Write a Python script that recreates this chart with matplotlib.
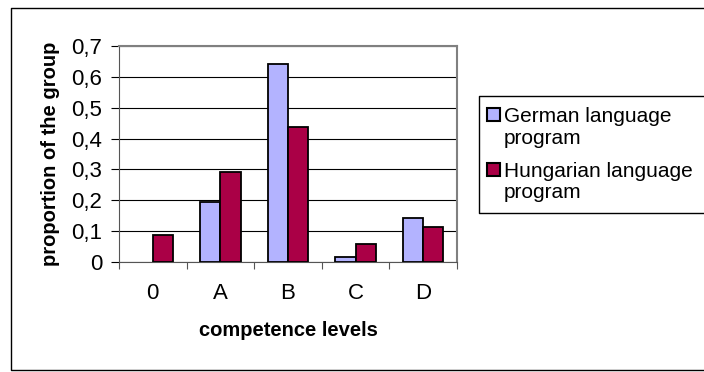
import numpy as np
import matplotlib

matplotlib.use("Agg")
import matplotlib.pyplot as plt
from matplotlib.lines import Line2D
from matplotlib.patches import Rectangle
from matplotlib.ticker import FuncFormatter

CATEGORIES = ["0", "A", "B", "C", "D"]
GERMAN = [0.0, 0.195, 0.642, 0.016, 0.142]
HUNGARIAN = [0.088, 0.293, 0.438, 0.057, 0.114]
SERIES_LABELS = ["German language\nprogram", "Hungarian language\nprogram"]
SERIES_COLORS = ["#b3b3ff", "#aa0046"]
Y_TICKS = [0, 0.1, 0.2, 0.3, 0.4, 0.5, 0.6, 0.7]

W, H = 704, 372
FS = 15
plt.rcParams["font.family"] = ["Liberation Sans", "DejaVu Sans"]


def fx(x):
    return x / W


def fy(y):
    # pixel row (top origin) -> figure fraction
    return 1 - y / H


def open_frame(fig, x0, y0, y1):
    # left, top and bottom edges only: the right edge is cut off in the reference
    xs = [fx(W + 20), fx(x0), fx(x0), fx(W + 20)]
    ys = [fy(y0), fy(y0), fy(y1), fy(y1)]
    fig.lines.append(Line2D(xs, ys, transform=fig.transFigure, color="black", linewidth=1.0))


fig = plt.figure(figsize=(W / 100, H / 100), dpi=100)
open_frame(fig, 10.5, 7.5, 369.5)

ax = fig.add_axes([fx(119), fy(262), fx(338), 216 / H])
x = np.arange(len(CATEGORIES))
width = 0.3
german = np.array(GERMAN)
german = np.where(german > 0, german, np.nan)  # Excel draws nothing for a zero value
ax.bar(x - width / 2, german, width, color=SERIES_COLORS[0], edgecolor="black", linewidth=1.3, zorder=3)
ax.bar(x + width / 2, HUNGARIAN, width, color=SERIES_COLORS[1], edgecolor="black", linewidth=1.3, zorder=3)

ax.set_xlim(-0.5, len(CATEGORIES) - 0.5)
ax.set_ylim(0, 0.7)
ax.set_yticks(Y_TICKS)
ax.yaxis.set_major_formatter(FuncFormatter(lambda v, _: "0" if v == 0 else f"{v:.1f}".replace(".", ",")))
ax.yaxis.grid(True, color="#000000", linewidth=0.8, zorder=0)
ax.set_axisbelow(True)

ax.set_xticks(x)
ax.set_xticklabels(CATEGORIES)
ax.set_xticks(np.arange(-0.5, len(CATEGORIES), 1.0), minor=True)
ax.tick_params(axis="x", which="major", length=0, pad=15, labelsize=16)
ax.tick_params(axis="x", which="minor", length=5, width=0.8, direction="out", color="#555555")
ax.tick_params(axis="y", length=6, width=0.8, direction="out", labelsize=16, pad=6)

for side in ("top", "right"):
    ax.spines[side].set_color("#808080")
    ax.spines[side].set_linewidth(1.5)
ax.spines["left"].set_color("#555555")
ax.spines["bottom"].set_color("#555555")

ax.set_xlabel("competence levels", fontsize=14.5, fontweight="bold", labelpad=12)
ax.set_ylabel("proportion of the group", fontsize=14.5, fontweight="bold", labelpad=8)

# legend, drawn by hand so each swatch sits on the first line of its label
open_frame(fig, 478.5, 95.5, 212.5)
for i, (label, color) in enumerate(zip(SERIES_LABELS, SERIES_COLORS)):
    base = 122 + i * 55
    fig.patches.append(Rectangle((fx(486.5), fy(base - 1)), 13 / W, 13 / H, transform=fig.transFigure,
                                 facecolor=color, edgecolor="black", linewidth=1.5))
    for j, line in enumerate(label.split("\n")):
        fig.text(fx(504), fy(base + j * 21.5), line, fontsize=FS, va="baseline", ha="left")

fig.savefig("out.png", dpi=100)
